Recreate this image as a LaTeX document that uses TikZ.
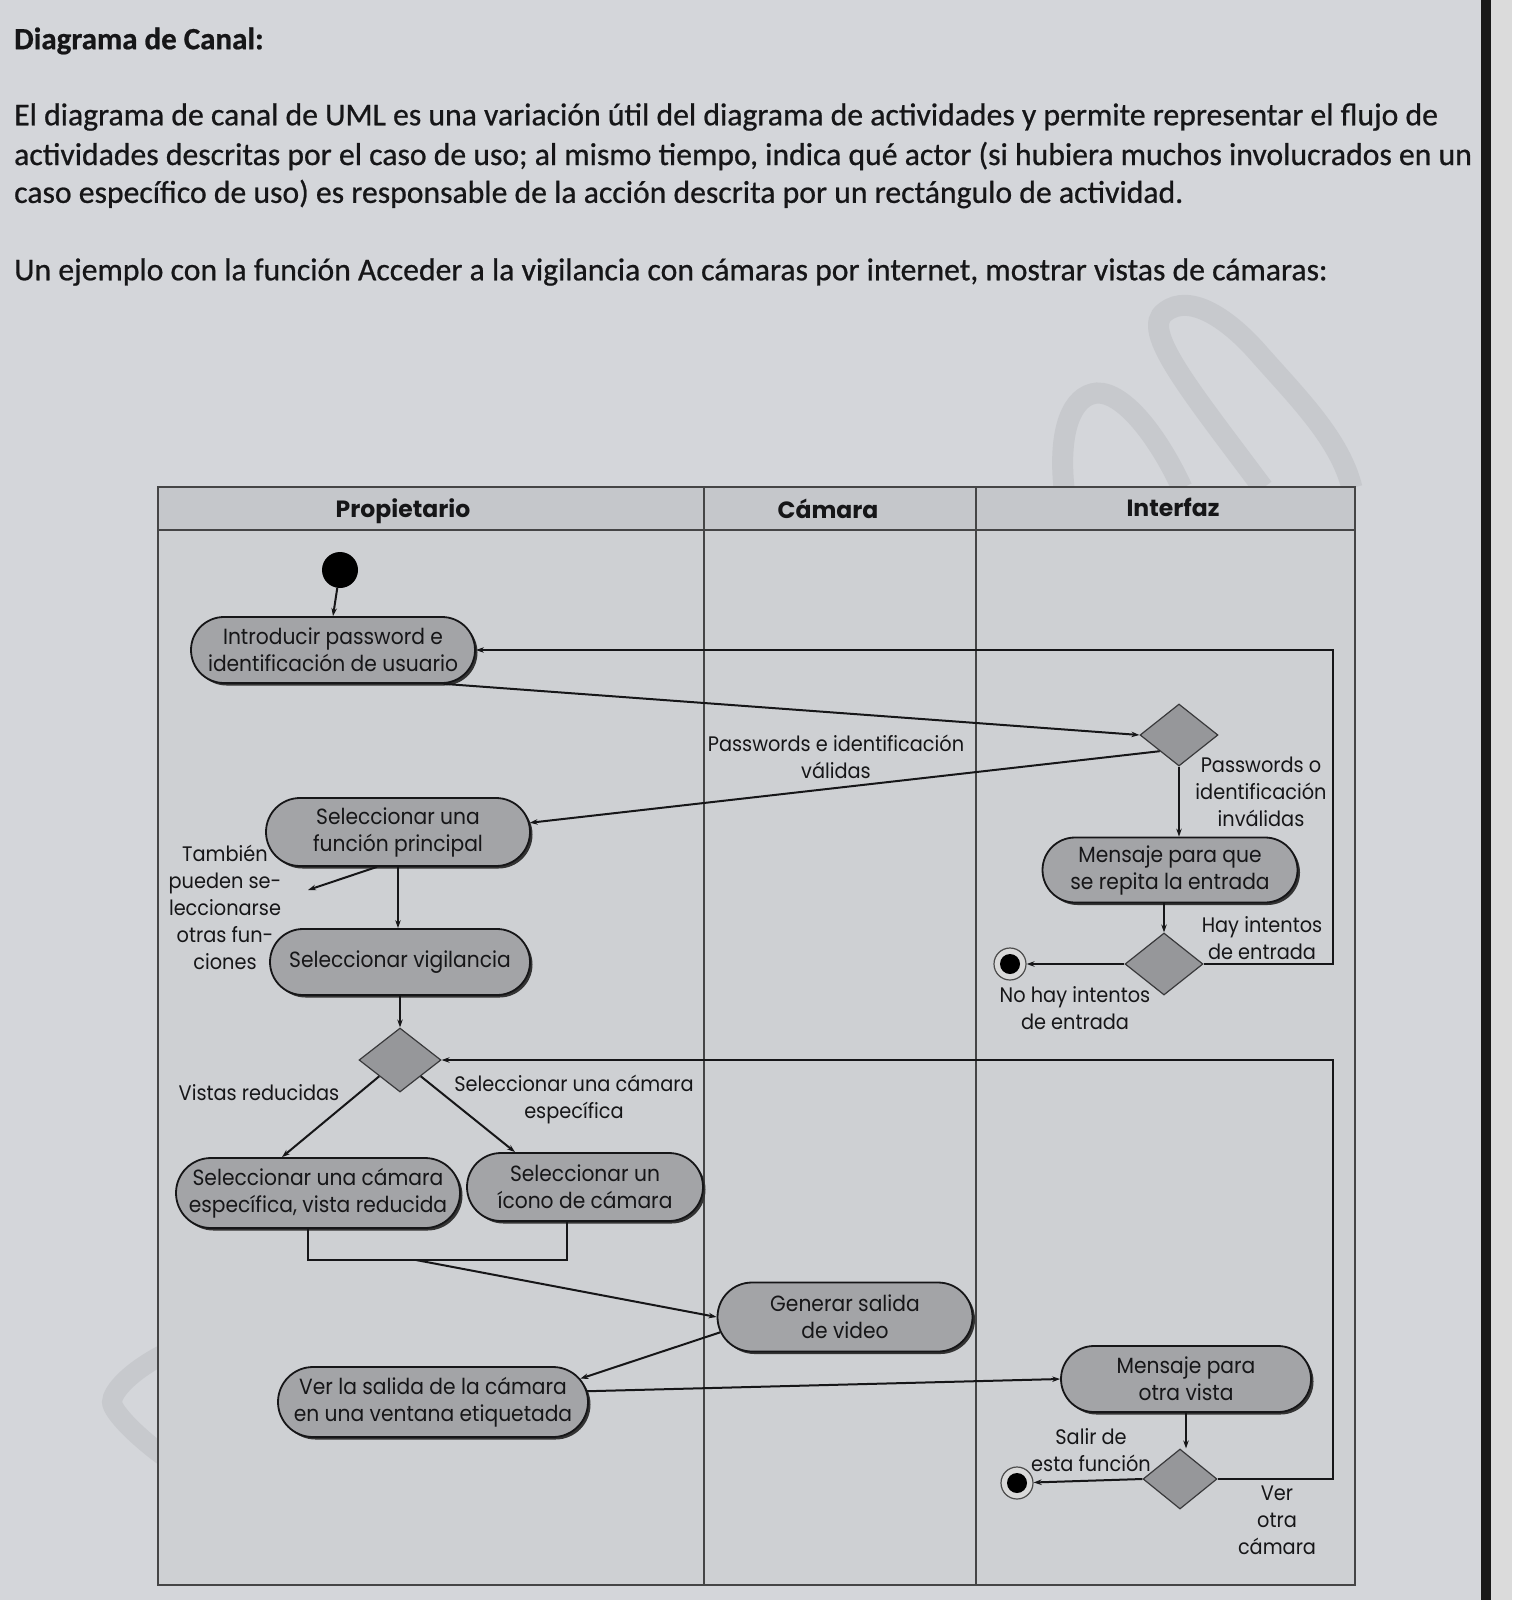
\documentclass[tikz,border=0pt]{standalone}
\usepackage{fontspec}
\setmainfont{Carlito}[FakeBold=0.7]
\newfontfamily\dgm[FakeStretch=0.92]{Poppins}
\newfontfamily\dgmh[FakeStretch=1.0]{Poppins}
\usetikzlibrary{shapes.geometric,shapes.misc,arrows.meta,calc,shadows}
\definecolor{pagebg}{RGB}{212,214,218}
\definecolor{headbg}{RGB}{197,199,203}
\definecolor{actfill}{RGB}{163,164,167}
\definecolor{decfill}{RGB}{150,151,154}
\definecolor{ink}{RGB}{22,22,24}
\definecolor{wmark}{RGB}{199,201,205}
\begin{document}
\begin{tikzpicture}[x=1pt,y=-1pt,
  body/.style={anchor=west, inner sep=0pt, text=ink, font=\fontsize{31.7}{36}\selectfont},
  act/.style={rounded rectangle, draw=ink, line width=1.8pt, fill=actfill, align=center,
    inner sep=0pt, text=ink, font=\dgm\fontsize{22}{27}\selectfont,
    drop shadow={shadow xshift=2.5pt, shadow yshift=-2.5pt, fill=black!80, opacity=1}},
  dec/.style={diamond, draw=ink!85, line width=1.2pt, fill=decfill, minimum width=78pt,
    minimum height=62pt, inner sep=0pt},
  lbl/.style={align=center, inner sep=0pt, text=ink, font=\dgm\fontsize{21}{27}\selectfont},
  head/.style={inner sep=0pt, text=ink, font=\dgmh\bfseries\fontsize{23.5}{27}\selectfont},
  arr/.style={draw=ink, line width=2pt, -{Stealth[length=8pt,width=5.5pt]}},
  ln/.style={draw=ink, line width=2pt},
  frame/.style={draw=ink!80, line width=1.6pt},
  startn/.style={circle, fill=black, minimum size=36pt, inner sep=0pt},
  endn/.style={circle, draw=black!70, line width=1.2pt, fill=white!70!gray, minimum size=32pt,
    inner sep=0pt, path picture={\fill[black] (path picture bounding box.center) circle (10pt);}},
  wm/.style={draw=wmark, line width=21pt}
]
\useasboundingbox (0,0) rectangle (1512,1600);
\fill[pagebg] (0,0) rectangle (1512,1600);
% screen edge
\fill[white!72!gray] (1490,0) rectangle (1512,1600);
\draw[black!90, line width=10pt] (1486,0) -- (1486,1600);

% watermark
\draw[wm] (1263,488) .. controls (1190,390) and (1140,330) .. (1165,312)
  .. controls (1190,292) and (1230,320) .. (1260,355)
  .. controls (1300,400) and (1340,440) .. (1352,488);
\draw[wm] (1064,488) .. controls (1058,430) and (1072,395) .. (1097,393)
  .. controls (1125,392) and (1160,440) .. (1182,488);
\draw[wm, line width=20pt] (172,1350) .. controls (130,1370) and (112,1392) .. (112,1402)
  .. controls (112,1412) and (140,1440) .. (172,1462);

% text
\node[body, font=\bfseries\fontsize{31}{36}\selectfont] (title) at (14,41) {Diagrama de Canal:};
\node[body] (p1) at (14,117) {El diagrama de canal de UML es una variación útil del diagrama de actividades y permite representar el flujo de};
\node[body] (p2) at (14,156) {actividades descritas por el caso de uso; al mismo tiempo, indica qué actor (si hubiera muchos involucrados en un};
\node[body] (p3) at (14,194) {caso específico de uso) es responsable de la acción descrita por un rectángulo de actividad.};
\node[body] (p4) at (14,272) {Un ejemplo con la función Acceder a la vigilancia con cámaras por internet, mostrar vistas de cámaras:};

% swimlanes
\fill[pagebg!97!black] (158,530) rectangle (1355,1585);
\fill[headbg] (158,487) rectangle (1355,530);
\draw[frame] (158,487) rectangle (1355,1585);
\draw[frame] (158,530) -- (1355,530);
\draw[frame] (704,487) -- (704,1585);
\draw[frame] (976,487) -- (976,1585);
\node[head] (hP) at (403,511) {Propietario};
\node[head] (hC) at (828,509) {Cámara};
\node[head] (hI) at (1173,507) {Interfaz};

% nodes
\node[startn] (st) at (340,570) {};
\node[act, minimum width=284pt, minimum height=66pt] (n1) at (333,650) {Introducir password e\\identificación de usuario};
\node[dec] (d1) at (1179,735) {};
\node[act, minimum width=264pt, minimum height=68pt] (n3) at (398,832) {Seleccionar una\\función principal};
\node[act, minimum width=255pt, minimum height=65pt] (n2) at (1170,870) {Mensaje para que\\se repita la entrada};
\node[dec] (d2) at (1164,964) {};
\node[endn] (e1) at (1010,964) {};
\node[act, minimum width=260pt, minimum height=66pt] (n4) at (400,962) {Seleccionar vigilancia};
\node[dec, minimum width=82pt, minimum height=64pt] (d3) at (400,1060) {};
\node[act, minimum width=284pt, minimum height=70pt] (n5) at (318,1193) {Seleccionar una cámara\\específica, vista reducida};
\node[act, minimum width=236pt, minimum height=68pt] (n6) at (585,1187) {Seleccionar un\\ícono de cámara};
\node[act, minimum width=255pt, minimum height=69pt] (n7) at (845,1317) {Generar salida\\de video};
\node[act, minimum width=310pt, minimum height=70pt] (n8) at (433,1402) {Ver la salida de la cámara\\en una ventana etiquetada};
\node[act, minimum width=250pt, minimum height=66pt] (n9) at (1186,1379) {Mensaje para\\otra vista};
\node[dec, minimum width=74pt, minimum height=60pt] (d4) at (1180,1479) {};
\node[endn] (e2) at (1017,1483) {};

% labels
\node[lbl] (lPV) at (836,757) {Passwords e identificación\\válidas};
\node[lbl] (lPI) at (1261,792) {Passwords o\\identificación\\inválidas};
\node[lbl] (lHay) at (1262,938) {Hay intentos\\de entrada};
\node[lbl] (lNo) at (1075,1008) {No hay intentos\\de entrada};
\node[lbl] (lTam) at (225,907) {También\\pueden se-\\leccionarse\\otras fun-\\ciones};
\node[lbl] (lVR) at (259,1093) {Vistas reducidas};
\node[lbl] (lSC) at (574,1100) {Seleccionar una cámara\\específica};
\node[lbl] (lSal) at (1091,1450) {Salir de\\esta función};
\node[lbl] (lVer) at (1277,1520) {Ver\\otra\\cámara};

% helper coordinates
\coordinate (cA) at (1333,0);
\coordinate (noteTip) at (308,890);
\coordinate (jL) at (308,1260);
\coordinate (jR) at (567,1260);
\coordinate (jM) at (416,1260);

% connectors
\draw[arr] (st) -- (n1.north);
\draw[arr] (n1.343) -- (d1.west);
\draw[arr] (d1.220) -- (n3.4);
\draw[arr] (d1.south) -- (d1.south |- n2.north);
\draw[arr] (d2.north |- n2.south) -- (d2.north);
\draw[arr] (d2.west) -- (e1);
\draw[arr] (d2.east) -- (d2.east -| cA) |- (n1.east);
\draw[arr] (n3.south) -- (n3.south |- n4.north);
\draw[arr] ($(n3.south)+(-21,0)$) -- (noteTip);
\draw[arr] (n4.south) -- (d3.north);
\draw[arr] (d3.south west) -- ($(n5.north)+(-36,0)$);
\draw[arr] (d3.south east) -- ($(n6.north)+(-70,0)$);
\draw[ln] (jL |- n5.south) -- (jL) -- (jR) -- (jR |- n6.south);
\draw[arr] (jM) -- (n7.west);
\draw[arr] (n7.187) -- (n8.9);
\draw[arr] (n8.4) -- (n9.west);
\draw[arr] (n9.south) -- (n9.south |- d4.north);
\draw[arr] (d4.west) -- (e2);
\draw[arr] (d4.east) -- (d4.east -| cA) |- (d3.east);
\end{tikzpicture}
\end{document}
